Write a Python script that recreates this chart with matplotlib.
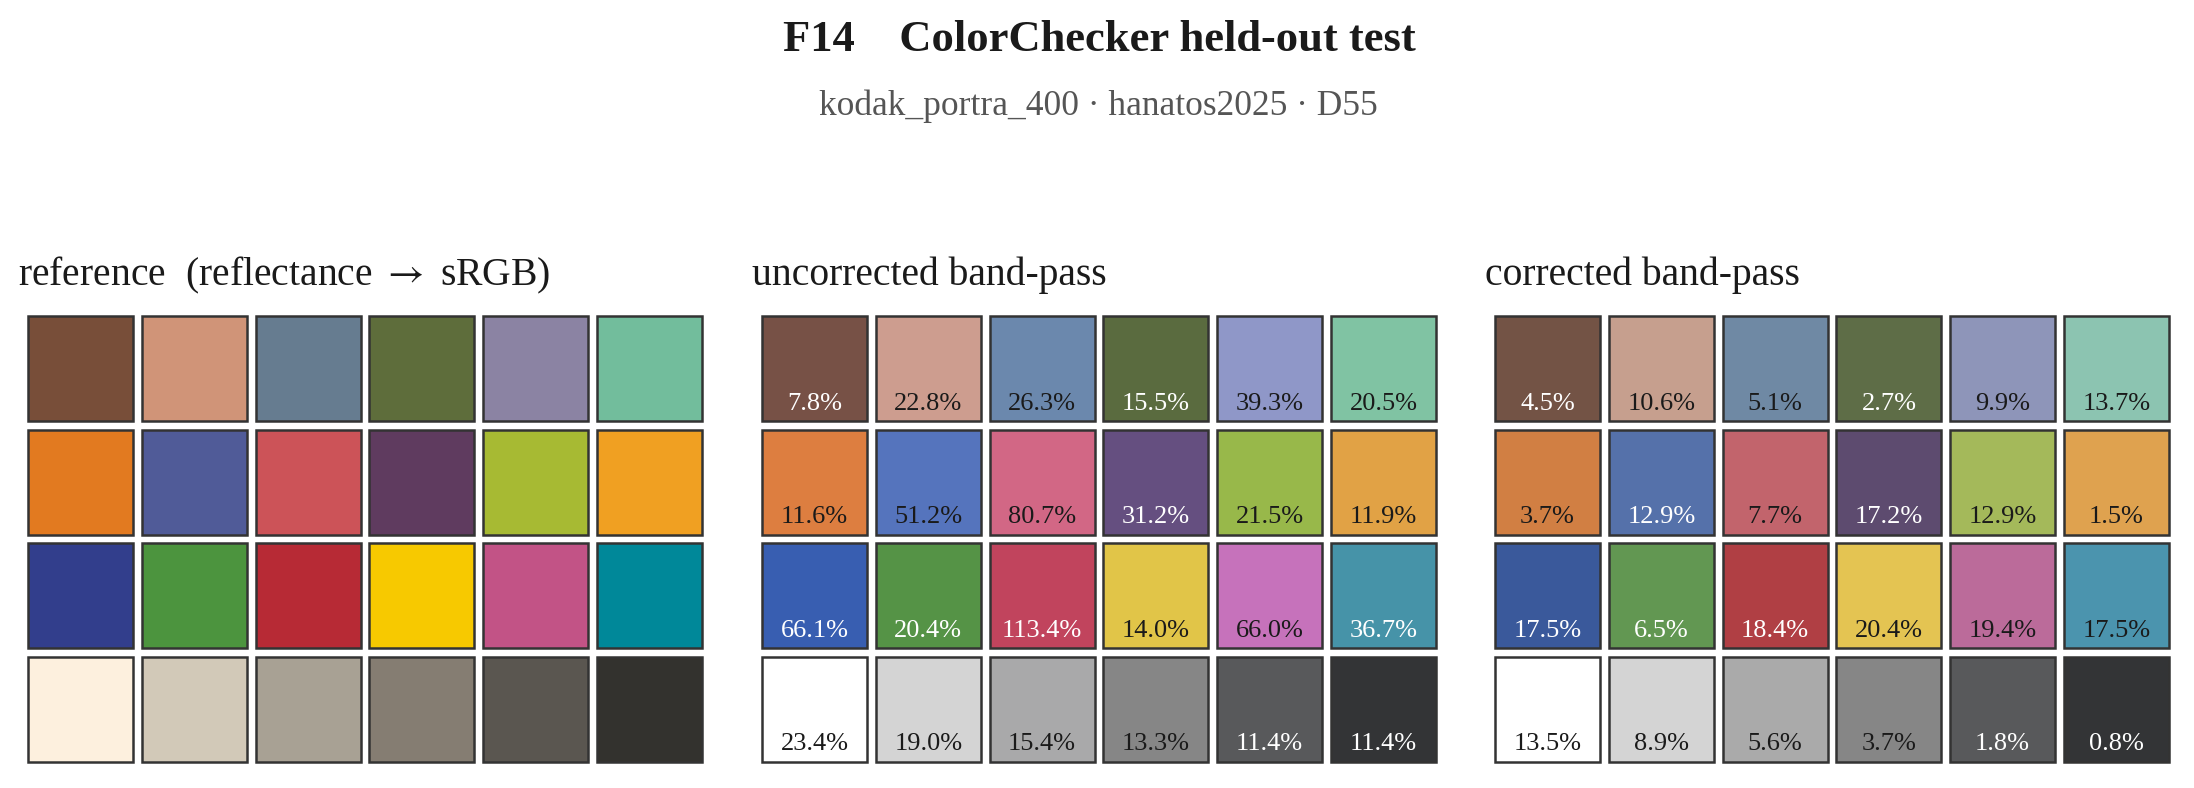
import matplotlib
matplotlib.use("Agg")
import matplotlib.pyplot as plt
from matplotlib.patches import Rectangle

plt.rcParams["font.family"] = ["Liberation Serif", "DejaVu Serif"]
plt.rcParams["mathtext.fontset"] = "stix"

W, H = 2194, 788

title = "F14    ColorChecker held-out test"
subtitle = "kodak_portra_400 \u00b7 hanatos2025 \u00b7 D55"
panel_titles = [
    r"reference  (reflectance $\rightarrow$ sRGB)",
    "uncorrected band-pass",
    "corrected band-pass",
]

# patch colours, 4 rows x 6 columns, row-major
reference_colors = [
    "#784e39", "#d09478", "#667c90", "#5e6d3b", "#8b83a3", "#72bd9c",
    "#e27a20", "#505b98", "#cc5358", "#5f3b5f", "#a7ba33", "#f0a022",
    "#323e8c", "#4c943e", "#b72a35", "#f7c900", "#c25386", "#008899",
    "#fdf0de", "#d2c9b8", "#a8a194", "#857d72", "#5a5650", "#33322e",
]
uncorrected_colors = [
    "#775146", "#cd9d8f", "#6b88ad", "#5a6b3f", "#8f97c8", "#80c3a3",
    "#dd7e40", "#5574bd", "#d26785", "#654f80", "#98b84a", "#e1a245",
    "#385eb1", "#559346", "#c1445d", "#e1c548", "#c672bb", "#4693a8",
    "#ffffff", "#d4d4d4", "#a9a9aa", "#868686", "#58595b", "#333436",
]
corrected_colors = [
    "#735345", "#c69f8e", "#6f89a4", "#5e6d47", "#8e95b9", "#8cc4b1",
    "#d17f43", "#5571aa", "#c2646c", "#5d4b6f", "#a4b95a", "#dfa24f",
    "#3a599b", "#629752", "#b03f44", "#e4c452", "#bb6b9a", "#4b94ae",
    "#ffffff", "#d4d4d4", "#aaaaaa", "#868686", "#58595b", "#333436",
]

# relative error per patch (%)
uncorrected_err = [
    7.8, 22.8, 26.3, 15.5, 39.3, 20.5,
    11.6, 51.2, 80.7, 31.2, 21.5, 11.9,
    66.1, 20.4, 113.4, 14.0, 66.0, 36.7,
    23.4, 19.0, 15.4, 13.3, 11.4, 11.4,
]
corrected_err = [
    4.5, 10.6, 5.1, 2.7, 9.9, 13.7,
    3.7, 12.9, 7.7, 17.2, 12.9, 1.5,
    17.5, 6.5, 18.4, 20.4, 19.4, 17.5,
    13.5, 8.9, 5.6, 3.7, 1.8, 0.8,
]

# label on light text (1) or dark text (0)
uncorrected_light = [
    1, 0, 0, 1, 0, 0,
    0, 0, 0, 1, 0, 0,
    1, 1, 1, 0, 0, 1,
    0, 0, 0, 0, 1, 1,
]
corrected_light = [
    1, 0, 0, 1, 0, 0,
    0, 1, 0, 1, 0, 0,
    1, 1, 1, 0, 0, 0,
    0, 0, 0, 0, 1, 1,
]

panels = [
    (reference_colors, None, None),
    (uncorrected_colors, uncorrected_err, uncorrected_light),
    (corrected_colors, corrected_err, corrected_light),
]

fig = plt.figure(figsize=(W / 100, H / 100), dpi=100)
fig.patch.set_facecolor("white")

fig.text(1099 / W, 1 - 51 / H, title, ha="center", va="baseline",
         fontsize=32, fontweight="bold", color="#1a1a1a")
fig.text(1098 / W, 1 - 115 / H, subtitle, ha="center", va="baseline",
         fontsize=25.5, color="#555555")

size = 0.925
n_cols, n_rows = 6, 4
panel_left = [28, 762, 1495]
panel_w, top_px, bottom_px = 674, 316, 762

for i, (colors, errs, light) in enumerate(panels):
    ax = fig.add_axes([panel_left[i] / W, 1 - bottom_px / H,
                       panel_w / W, (bottom_px - top_px) / H])
    ax.set_xlim(0, n_cols - 1 + size)
    ax.set_ylim(n_rows - 1 + size, 0)
    ax.axis("off")
    for k, c in enumerate(colors):
        r, col = divmod(k, n_cols)
        ax.add_patch(Rectangle((col, r), size, size, facecolor=c,
                               edgecolor="#333333", linewidth=1.8,
                               clip_on=False))
        if errs is not None:
            tc = "white" if light[k] else "#1a1a1a"
            ax.text(col + size / 2, r + size * 0.89, f"{errs[k]:.1f}%",
                    ha="center", va="baseline", fontsize=19, color=tc)
    fig.text((panel_left[i] - 10) / W, 1 - 285 / H, panel_titles[i],
             ha="left", va="baseline", fontsize=28.5, color="#1a1a1a")

fig.savefig("out.png", dpi=100)
